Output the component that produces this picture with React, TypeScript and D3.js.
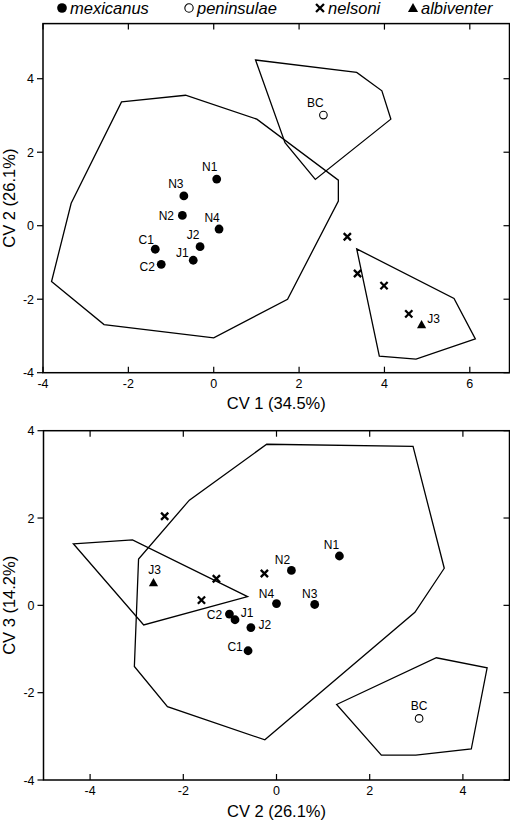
import React from "react";
import * as d3 from "d3";

// ---------- data ----------
const speciesNames = ["mexicanus", "peninsulae", "nelsoni", "albiventer"];

// Panel A: CV1 vs CV2
const cv12Labels = ["N1", "N3", "N2", "N4", "J2", "J1", "C1", "C2", "BC", "", "", "", "", "J3"];
const cv12Species = ["mexicanus", "mexicanus", "mexicanus", "mexicanus", "mexicanus", "mexicanus", "mexicanus", "mexicanus", "peninsulae", "nelsoni", "nelsoni", "nelsoni", "nelsoni", "albiventer"];
const cv12X = [0.07, -0.7, -0.735, 0.125, -0.32, -0.48, -1.37, -1.23, 2.57, 3.13, 3.37, 3.99, 4.57, 4.87];
const cv12Y = [1.27, 0.81, 0.28, -0.09, -0.57, -0.94, -0.64, -1.05, 3.01, -0.3, -1.3, -1.63, -2.4, -2.69];

const cv12HullMexicanus = [[-2.16, 3.37], [-0.66, 3.55], [1.01, 2.9], [2.92, 1.24], [2.92, 0.67], [1.73, -2.0], [0.0, -3.05], [-2.57, -2.69], [-3.8, -1.52], [-3.34, 0.61]];
const cv12HullPeninsulae = [[0.98, 4.51], [3.35, 4.17], [3.94, 3.67], [4.15, 2.9], [2.38, 1.26], [1.67, 2.26]];
const cv12HullNelsoni = [[3.35, -0.63], [5.63, -1.98], [6.13, -3.08], [4.74, -3.63], [3.88, -3.55]];

// Panel B: CV2 vs CV3
const cv23Labels = ["N1", "N2", "N4", "N3", "C2", "J1", "J2", "C1", "BC", "", "", "", "", "J3"];
const cv23Species = ["mexicanus", "mexicanus", "mexicanus", "mexicanus", "mexicanus", "mexicanus", "mexicanus", "mexicanus", "peninsulae", "nelsoni", "nelsoni", "nelsoni", "nelsoni", "albiventer"];
const cv23X = [1.35, 0.32, 0.0, 0.82, -1.01, -0.89, -0.55, -0.61, 3.06, -0.26, -1.29, -1.61, -2.4, -2.64];
const cv23Y = [1.13, 0.8, 0.04, 0.02, -0.2, -0.33, -0.51, -1.04, -2.59, 0.73, 0.61, 0.12, 2.04, 0.52];

const cv23HullMexicanus = [[-0.21, 3.69], [2.93, 3.64], [3.6, 0.85], [2.97, -0.16], [-0.25, -3.08], [-2.34, -2.32], [-3.05, -1.4], [-2.96, 1.06], [-1.87, 2.41]];
const cv23HullNelsoni = [[-4.36, 1.41], [-3.09, 1.5], [-0.62, 0.2], [-2.85, -0.45]];
const cv23HullPeninsulae = [[1.29, -2.27], [3.43, -1.2], [4.52, -1.43], [4.18, -3.29], [2.99, -3.43], [2.25, -3.43]];

const yTicks = [-4, -2, 0, 2, 4];
const cv12XTicks = [-4, -2, 0, 2, 4, 6];
const cv23XTicks = [-4, -2, 0, 2, 4];

// ---------- layout ----------
const FONT = "'Liberation Sans', Arial, Helvetica, sans-serif";
const labelOffsetsA: Record<string, [number, number]> = {
  N1: [-7, -12], N3: [-8, -12], N2: [-16, 0], N4: [-7, -11], J2: [-7, -12],
  J1: [-11, -8], C1: [-9, -10], C2: [-14, 2], BC: [-8, -12], J3: [12, -6],
};
const labelOffsetsB: Record<string, [number, number]> = {
  N1: [-8, -11], N2: [-9, -11], N4: [-10, -10], N3: [-5, -11], C2: [-15, 1],
  J1: [12, -7], J2: [14, -3], C1: [-13, -4], J3: [1, -13], BC: [0, -13],
};

function Marker({ species, x, y, legend = false }: { species: string; x: number; y: number; legend?: boolean }) {
  const s = legend ? 1.1 : 1;
  if (species === "mexicanus") return <circle cx={x} cy={y} r={4.4 * s} fill="#000" />;
  if (species === "peninsulae") return <circle cx={x} cy={y} r={3.8 * s} fill="#fff" stroke="#000" strokeWidth={1.1} />;
  if (species === "nelsoni") {
    const d = 3.6 * s;
    return (
      <path d={`M${x - d},${y - d}L${x + d},${y + d}M${x - d},${y + d}L${x + d},${y - d}`} stroke="#000" strokeWidth={2.3} />
    );
  }
  const h = 4.6 * s;
  return <path d={`M${x},${y - h}L${x + h},${y + h * 0.8}L${x - h},${y + h * 0.8}Z`} fill="#000" />;
}

type PanelProps = {
  xDomain: [number, number];
  xRange: [number, number];
  yRange: [number, number];
  yDomain: [number, number];
  xTicks: number[];
  labels: string[];
  species: string[];
  xs: number[];
  ys: number[];
  hulls: number[][][];
  offsets: Record<string, [number, number]>;
  xTitle: string;
  yTitle: string;
  xTitleY: number;
};

function Panel(p: PanelProps) {
  const x = d3.scaleLinear().domain(p.xDomain).range(p.xRange);
  const y = d3.scaleLinear().domain(p.yDomain).range(p.yRange);
  const line = d3
    .line<number[]>()
    .x((d) => x(d[0]))
    .y((d) => y(d[1]))
    .curve(d3.curveLinearClosed);
  const [x0, x1] = p.xRange;
  const [yb, yt] = p.yRange;
  const tl = 6;
  return (
    <g>
      {p.hulls.map((h, i) => (
        <path key={i} d={line(h) || ""} fill="none" stroke="#000" strokeWidth={1.3} strokeLinejoin="miter" />
      ))}
      <rect x={x0} y={yt} width={x1 - x0} height={yb - yt} fill="none" stroke="#000" strokeWidth={1.5} />
      {p.xTicks.map((t) => (
        <g key={"x" + t}>
          <line x1={x(t)} x2={x(t)} y1={yb} y2={yb - tl} stroke="#000" strokeWidth={1.2} />
          <line x1={x(t)} x2={x(t)} y1={yt} y2={yt + tl} stroke="#000" strokeWidth={1.2} />
          <text x={x(t)} y={yb + 15} textAnchor="middle" fontSize={12.5} fontFamily={FONT}>
            {String(t)}
          </text>
        </g>
      ))}
      {yTicks.map((t) => (
        <g key={"y" + t}>
          <line x1={x0} x2={x0 - tl} y1={y(t)} y2={y(t)} stroke="#000" strokeWidth={1.2} />
          <line x1={x1} x2={x1 - tl} y1={y(t)} y2={y(t)} stroke="#000" strokeWidth={1.2} />
          <text x={x0 - 9} y={y(t)} dy="0.36em" textAnchor="end" fontSize={12.5} fontFamily={FONT}>
            {String(t)}
          </text>
        </g>
      ))}
      {p.xs.map((v, i) => {
        const px = x(v);
        const py = y(p.ys[i]);
        const lab = p.labels[i];
        const off = p.offsets[lab] || [0, 0];
        return (
          <g key={"p" + i}>
            <Marker species={p.species[i]} x={px} y={py} />
            {lab && (
              <text x={px + off[0]} y={py + off[1]} dy="0.36em" textAnchor="middle" fontSize={12} fontFamily={FONT}>
                {lab}
              </text>
            )}
          </g>
        );
      })}
      <text x={(x0 + x1) / 2} y={p.xTitleY} textAnchor="middle" fontSize={16.5} fontFamily={FONT}>
        {p.xTitle}
      </text>
      <text
        transform={`translate(15,${(yb + yt) / 2}) rotate(-90)`}
        textAnchor="middle"
        fontSize={16.5}
        fontFamily={FONT}
      >
        {p.yTitle}
      </text>
    </g>
  );
}

const legendX = [62, 189, 320, 413];

export default function App() {
  return (
    <svg width={510} height={820} style={{ position: "absolute", left: 0, top: 0, background: "#fff" }}>
      <rect width={510} height={820} fill="#fff" />
      {speciesNames.map((s, i) => (
        <g key={s}>
          <Marker species={s} x={legendX[i]} y={8} legend />
          <text x={legendX[i] + 8} y={14} fontSize={16.5} fontStyle="italic" fontFamily={FONT}>
            {s}
          </text>
        </g>
      ))}
      <Panel
        xDomain={[-4, 6.93]}
        xRange={[43, 509.5]}
        yDomain={[-4, 5.5]}
        yRange={[372.7, 23.6]}
        xTicks={cv12XTicks}
        labels={cv12Labels}
        species={cv12Species}
        xs={cv12X}
        ys={cv12Y}
        hulls={[cv12HullMexicanus, cv12HullPeninsulae, cv12HullNelsoni]}
        offsets={labelOffsetsA}
        xTitle="CV 1 (34.5%)"
        yTitle="CV 2 (26.1%)"
        xTitleY={409}
      />
      <Panel
        xDomain={[-5, 5]}
        xRange={[43.5, 509.5]}
        yDomain={[-4, 4]}
        yRange={[780, 430.7]}
        xTicks={cv23XTicks}
        labels={cv23Labels}
        species={cv23Species}
        xs={cv23X}
        ys={cv23Y}
        hulls={[cv23HullMexicanus, cv23HullNelsoni, cv23HullPeninsulae]}
        offsets={labelOffsetsB}
        xTitle="CV 2 (26.1%)"
        yTitle="CV 3 (14.2%)"
        xTitleY={816.5}
      />
    </svg>
  );
}
